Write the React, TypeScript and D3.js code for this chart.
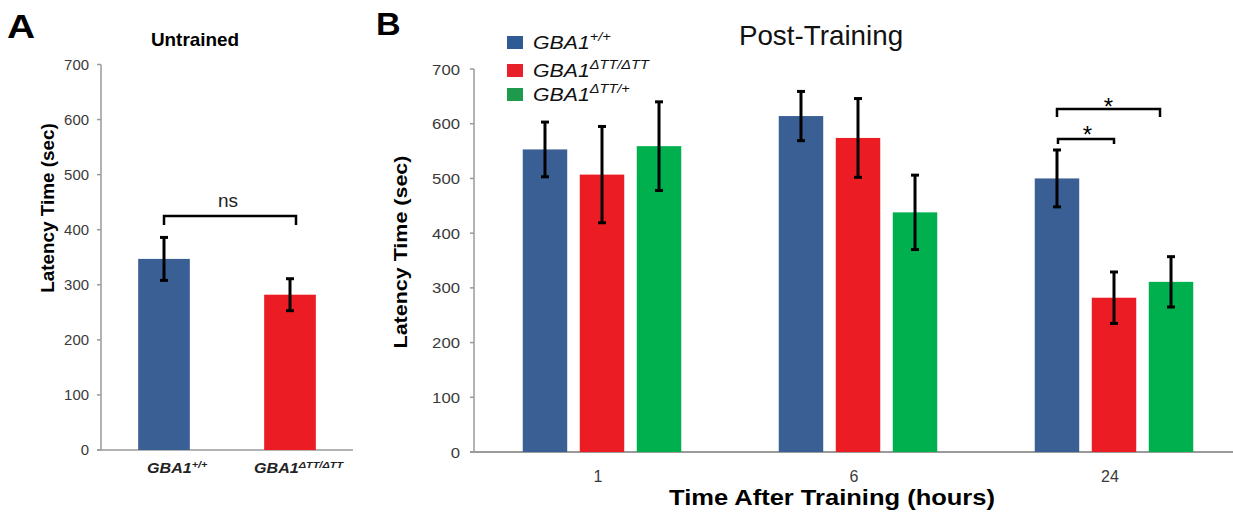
import React from "react";
import * as d3 from "d3";

// ---------- Data ----------
const untrainedGroups = ["+/+", "ΔTT/ΔTT"];
const untrainedMeans = [347, 282];
const untrainedErr = [39, 29];

const timeCategories = ["1", "6", "24"];
const genotypes = ["+/+", "ΔTT/ΔTT", "ΔTT/+"];
const wtMeans = [553, 614, 500];
const wtErr = [50, 45, 52];
const homoMeans = [507, 574, 282];
const homoErr = [88, 72, 47];
const hetMeans = [559, 438, 311];
const hetErr = [81, 68, 46];

const yTicks = [0, 100, 200, 300, 400, 500, 600, 700];

const COLORS = ["#3A5F94", "#EC1C24", "#00B04F"];
const LEGEND_COLORS = ["#2F5B95", "#E8202A", "#1E9A4C"];
const FONT = "'Liberation Sans', Arial, Helvetica, sans-serif";

type TProps = {
  x: number;
  y: number;
  sx?: number;
  rotate?: number;
  anchor?: "start" | "middle" | "end";
  size: number;
  weight?: string | number;
  italic?: boolean;
  fill?: string;
  children: React.ReactNode;
};

function T({ x, y, sx = 1, rotate = 0, anchor = "start", size, weight = "normal", italic = false, fill = "#000", children }: TProps) {
  return (
    <text
      transform={`translate(${x},${y}) rotate(${rotate}) scale(${sx},1)`}
      textAnchor={anchor}
      fontSize={size}
      fontWeight={weight}
      fontStyle={italic ? "italic" : "normal"}
      fontFamily={FONT}
      fill={fill}
    >
      {children}
    </text>
  );
}

function ErrorBar({ x, yTop, yBot }: { x: number; yTop: number; yBot: number }) {
  const cap = 4;
  return (
    <g stroke="#000" strokeWidth={3} fill="none">
      <line x1={x} x2={x} y1={yTop} y2={yBot} />
      <line x1={x - cap} x2={x + cap} y1={yTop} y2={yTop} />
      <line x1={x - cap} x2={x + cap} y1={yBot} y2={yBot} />
    </g>
  );
}

function Bracket({ x1, x2, y, drop }: { x1: number; x2: number; y: number; drop: number }) {
  return (
    <path
      d={`M${x1},${y + drop} L${x1},${y} L${x2},${y} L${x2},${y + drop}`}
      stroke="#000"
      strokeWidth={2.5}
      fill="none"
    />
  );
}

export default function App() {
  // ---------- Panel A ----------
  const yA = d3.scaleLinear().domain([0, 700]).range([450, 64.5]);
  const xA = d3.scaleBand<string>().domain(untrainedGroups).range([101, 353]).padding(0);
  const barWA = xA.bandwidth() * 0.41;

  // ---------- Panel B ----------
  const yB = d3.scaleLinear().domain([0, 700]).range([452, 69]);
  const xB = d3.scaleBand<string>().domain(timeCategories).range([474, 1242]).padding(0);
  const xSub = d3.scaleBand<string>().domain(genotypes).range([-79.25, 79.25]).paddingInner(0.22).paddingOuter(0);
  const seriesMeans = [wtMeans, homoMeans, hetMeans];
  const seriesErr = [wtErr, homoErr, hetErr];

  const axisColor = "#9a9a9a";
  const tickColor = "#3a3a3a";

  const sup = (base: string, s: string, supSize: number, dy: number) => (
    <>
      <tspan>{base}</tspan>
      <tspan fontSize={supSize} dy={dy}>{s}</tspan>
    </>
  );

  return (
    <svg width={1233} height={519} style={{ position: "absolute", left: 0, top: 0, background: "#fff" }}>
      <rect x={0} y={0} width={1233} height={519} fill="#fff" />

      {/* Panel letters */}
      <T x={7} y={38} size={33} weight="bold" sx={1.18}>A</T>
      <T x={376} y={35} size={31} weight="bold" sx={1.1}>B</T>

      {/* ===== Panel A ===== */}
      <T x={195} y={46} size={18} weight="bold" anchor="middle" sx={1.05}>Untrained</T>

      {/* y axis */}
      <line x1={101} x2={101} y1={yA(700)} y2={yA(0)} stroke={axisColor} strokeWidth={1.5} />
      {yTicks.map((t) => (
        <g key={"ya" + t}>
          <line x1={97} x2={101} y1={yA(t)} y2={yA(t)} stroke={axisColor} strokeWidth={1.5} />
          <T x={89} y={yA(t) + 5} size={14.5} anchor="end" fill={tickColor} sx={1.03}>{t}</T>
        </g>
      ))}
      <line x1={97} x2={353} y1={yA(0)} y2={yA(0)} stroke={axisColor} strokeWidth={1.5} />
      <T x={54} y={208} size={17.5} weight="bold" anchor="middle" rotate={-90} sx={1.08}>Latency Time (sec)</T>

      {/* bars A */}
      {untrainedGroups.map((g, i) => {
        const cx = (xA(g) as number) + xA.bandwidth() / 2;
        return (
          <g key={"ba" + g}>
            <rect x={cx - barWA / 2} y={yA(untrainedMeans[i])} width={barWA} height={yA(0) - yA(untrainedMeans[i])} fill={COLORS[i]} />
            <ErrorBar x={cx} yTop={yA(untrainedMeans[i] + untrainedErr[i])} yBot={yA(untrainedMeans[i] - untrainedErr[i])} />
          </g>
        );
      })}
      {/* x labels A */}
      <T x={147} y={473} size={14} weight="bold" italic sx={1.15} fill="#222">{sup("GBA1", "+/+", 9.5, -5)}</T>
      <T x={254} y={473} size={14} weight="bold" italic sx={1.15} fill="#222">{sup("GBA1", "ΔTT/ΔTT", 9.5, -5)}</T>

      {/* ns bracket */}
      <Bracket x1={164} x2={296} y={216} drop={9} />
      <T x={228} y={207} size={19} anchor="middle" fill="#222">ns</T>

      {/* ===== Panel B ===== */}
      <T x={821} y={45} size={27} anchor="middle" sx={1.03} fill="#111">Post-Training</T>

      {/* y axis B */}
      <line x1={474} x2={474} y1={yB(700)} y2={yB(0)} stroke={axisColor} strokeWidth={1.5} />
      {yTicks.map((t) => (
        <g key={"yb" + t}>
          <line x1={470} x2={474} y1={yB(t)} y2={yB(t)} stroke={axisColor} strokeWidth={1.5} />
          <T x={460} y={yB(t) + 5.5} size={15.5} anchor="end" fill={tickColor} sx={1.08}>{t}</T>
        </g>
      ))}
      <line x1={470} x2={1233} y1={yB(0)} y2={yB(0)} stroke={axisColor} strokeWidth={2} />
      <T x={407} y={252} size={19} weight="bold" anchor="middle" rotate={-90} sx={1.13}>Latency Time (sec)</T>

      {/* bars B */}
      {timeCategories.map((c, ci) => {
        const gx = (xB(c) as number) + xB.bandwidth() / 2;
        return (
          <g key={"gb" + c}>
            {genotypes.map((g, si) => {
              const x0 = gx + (xSub(g) as number);
              const v = seriesMeans[si][ci];
              const e = seriesErr[si][ci];
              return (
                <g key={"bb" + c + g}>
                  <rect x={x0} y={yB(v)} width={xSub.bandwidth()} height={yB(0) - yB(v)} fill={COLORS[si]} />
                  <ErrorBar x={x0 + xSub.bandwidth() / 2} yTop={yB(v + e)} yBot={yB(v - e)} />
                </g>
              );
            })}
            <T x={gx - 4} y={482} size={16} anchor="middle" fill={tickColor} sx={1.0}>{c}</T>
          </g>
        );
      })}
      <T x={832} y={505} size={22} weight="bold" anchor="middle" sx={1.16}>Time After Training (hours)</T>

      {/* significance brackets */}
      {(() => {
        const g24 = (xB("24") as number) + xB.bandwidth() / 2;
        const cWT = g24 + (xSub("+/+") as number) + xSub.bandwidth() / 2;
        const cHomo = g24 + (xSub("ΔTT/ΔTT") as number) + xSub.bandwidth() / 2;
        const cHet = g24 + (xSub("ΔTT/+") as number) + xSub.bandwidth() / 2;
        const x2u = cHet - 11;
        return (
          <g>
            <Bracket x1={cWT} x2={x2u} y={109} drop={8} />
            <T x={(cWT + x2u) / 2} y={115} size={24} anchor="middle">*</T>
            <Bracket x1={cWT + 1} x2={cHomo} y={139} drop={5} />
            <T x={(cWT + cHomo) / 2 + 2} y={143} size={24} anchor="middle">*</T>
          </g>
        );
      })()}

      {/* legend */}
      {genotypes.map((g, i) => {
        const baselines = [49, 77, 101];
        const by = baselines[i];
        return (
          <g key={"lg" + g}>
            <rect x={507} y={by - 13} width={16} height={13} fill={LEGEND_COLORS[i]} />
            <T x={533} y={by} size={19} italic sx={1.12} fill="#111">{sup("GBA1", g, 13, -8)}</T>
          </g>
        );
      })}
    </svg>
  );
}
